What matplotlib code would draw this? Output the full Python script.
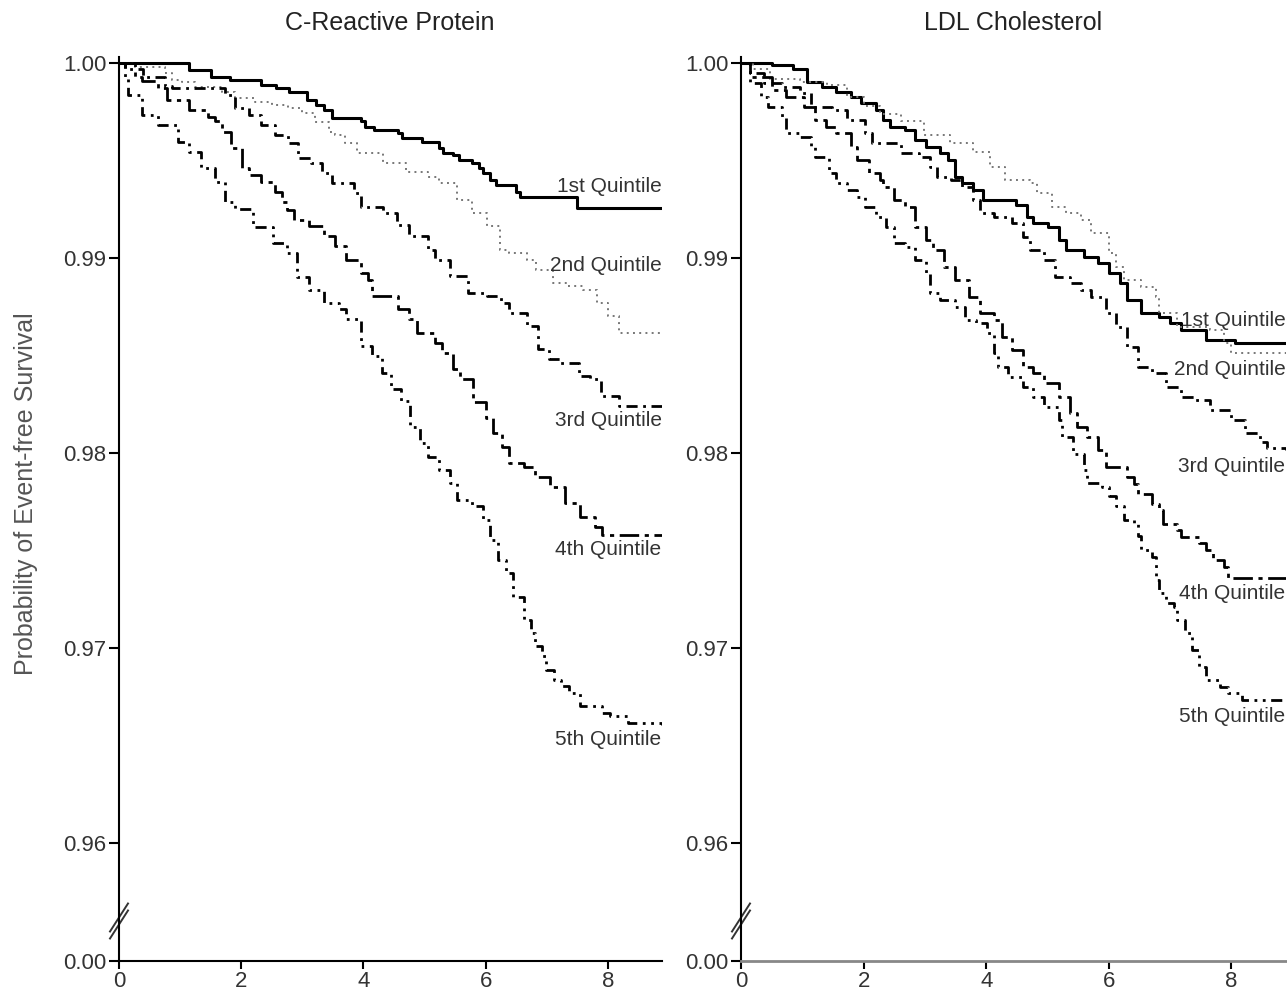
import numpy as np
import matplotlib.pyplot as plt

plt.rcParams['font.family'] = ['Liberation Sans', 'DejaVu Sans']

panel_titles = ['C-Reactive Protein', 'LDL Cholesterol']
quintile_names = ['1st Quintile', '2nd Quintile', '3rd Quintile', '4th Quintile', '5th Quintile']
x_ticks = [0, 2, 4, 6, 8]
y_ticks = [0.96, 0.97, 0.98, 0.99, 1.00]
y_tick_labels = ['0.96', '0.97', '0.98', '0.99', '1.00']

# C-reactive protein: years of follow-up / event-free survival (step knots)
crp_q1_t = [0, 1.15, 1.51, 1.81, 2.33, 2.57, 2.78, 3.08, 3.23, 3.36, 3.48, 3.96, 4.02, 4.17, 4.56, 4.63,
            4.96, 5.23, 5.30, 5.47, 5.56, 5.77, 5.89, 5.96, 6.08, 6.17, 6.50, 6.56, 7.50, 8.88]
crp_q1_s = [1.0, 0.99964, 0.9993, 0.99913, 0.99887, 0.9987, 0.99853, 0.9981, 0.99785, 0.9976, 0.9972, 0.9970,
            0.99673, 0.99656, 0.9964, 0.99615, 0.99596, 0.99564, 0.99538, 0.99528, 0.99503, 0.99487, 0.99462,
            0.99436, 0.9940, 0.99374, 0.9934, 0.99314, 0.99255, 0.99255]
crp_q2_t = [0, 0.26, 0.75, 0.86, 1.03, 1.24, 1.68, 1.90, 2.23, 2.50, 2.77, 2.99, 3.21, 3.43, 3.54, 3.70,
            3.90, 4.32, 4.69, 5.05, 5.23, 5.53, 5.77, 6.02, 6.23, 6.38, 6.68, 6.83, 7.10, 7.35, 7.59, 7.83,
            8.01, 8.19, 8.88]
crp_q2_s = [1.0, 0.99981, 0.99947, 0.99913, 0.9990, 0.99879, 0.99853, 0.99819, 0.99802, 0.99785, 0.99767,
            0.99742, 0.99699, 0.99648, 0.99631, 0.9959, 0.99537, 0.99486, 0.99443, 0.99417, 0.99383, 0.99298,
            0.9923, 0.99162, 0.99043, 0.99026, 0.98991, 0.9894, 0.98872, 0.98855, 0.98838, 0.9877, 0.98702,
            0.98617, 0.98605]
crp_q3_t = [0, 0.10, 0.40, 0.75, 0.86, 1.73, 1.90, 2.12, 2.33, 2.55, 2.77, 2.93, 3.15, 3.32, 3.48, 3.84,
            3.96, 4.32, 4.55, 4.75, 5.05, 5.17, 5.41, 5.71, 6.02, 6.26, 6.38, 6.68, 6.86, 7.04, 7.22, 7.53,
            7.71, 7.89, 8.19, 8.88]
crp_q3_s = [1.0, 0.9997, 0.9993, 0.9988, 0.9987, 0.99836, 0.99767, 0.99733, 0.99682, 0.99631, 0.99588,
            0.99511, 0.99486, 0.99434, 0.99383, 0.99332, 0.99264, 0.9923, 0.9917, 0.99111, 0.99043, 0.98991,
            0.98906, 0.98821, 0.98804, 0.9877, 0.98719, 0.98651, 0.98532, 0.9848, 0.98463, 0.98395, 0.98378,
            0.98293, 0.98242, 0.98242]
crp_q4_t = [0, 0.26, 0.37, 0.64, 0.78, 1.15, 1.46, 1.57, 1.68, 1.84, 2.01, 2.12, 2.33, 2.55, 2.66, 2.75,
            2.87, 3.11, 3.36, 3.54, 3.72, 3.96, 4.08, 4.14, 4.56, 4.75, 4.87, 5.17, 5.29, 5.47, 5.58, 5.80,
            6.00, 6.12, 6.27, 6.39, 6.63, 6.81, 7.06, 7.30, 7.54, 7.79, 7.91, 8.88]
crp_q4_s = [1.0, 0.9993, 0.9991, 0.9987, 0.9981, 0.99759, 0.99724, 0.9970, 0.99648, 0.99563, 0.9946,
            0.99426, 0.99391, 0.9934, 0.99289, 0.99247, 0.99196, 0.99162, 0.99111, 0.9906, 0.98991, 0.98923,
            0.98889, 0.98804, 0.98736, 0.98685, 0.98617, 0.98566, 0.98514, 0.98429, 0.98378, 0.9826, 0.9818,
            0.9810, 0.98032, 0.97947, 0.9793, 0.97879, 0.97827, 0.97742, 0.97673, 0.97622, 0.9758, 0.9758]
crp_q5_t = [0, 0.10, 0.15, 0.37, 0.64, 0.97, 1.14, 1.35, 1.57, 1.73, 1.90, 2.19, 2.52, 2.75, 2.91, 3.11,
            3.36, 3.60, 3.72, 3.96, 4.14, 4.30, 4.45, 4.62, 4.76, 4.93, 5.05, 5.23, 5.41, 5.54, 5.78, 5.96,
            6.08, 6.20, 6.33, 6.45, 6.63, 6.75, 6.81, 6.93, 6.99, 7.12, 7.24, 7.36, 7.54, 7.91, 8.03, 8.33, 8.88]
crp_q5_s = [1.0, 0.9992, 0.99836, 0.99733, 0.99682, 0.99596, 0.99545, 0.9946, 0.99391, 0.99289, 0.9925,
            0.99159, 0.99077, 0.99026, 0.98903, 0.98838, 0.9877, 0.98736, 0.98685, 0.98549, 0.98497, 0.98412,
            0.98327, 0.98265, 0.98135, 0.9805, 0.97981, 0.97913, 0.97845, 0.9776, 0.97726, 0.97657, 0.97555,
            0.97452, 0.97384, 0.97264, 0.97145, 0.97077, 0.97008, 0.96957, 0.96889, 0.96838, 0.96804, 0.9677,
            0.96701, 0.96667, 0.9665, 0.96616, 0.96607]

# LDL cholesterol
ldl_q1_t = [0, 0.50, 0.85, 1.08, 1.32, 1.55, 1.79, 1.96, 2.20, 2.31, 2.43, 2.67, 2.84, 3.02, 3.25, 3.37,
            3.49, 3.60, 3.78, 3.95, 4.48, 4.66, 4.77, 5.01, 5.18, 5.30, 5.59, 5.83, 6.00, 6.18, 6.30, 6.53,
            6.82, 7.00, 7.18, 7.59, 8.06, 8.89]
ldl_q1_s = [1.0, 0.9999, 0.99968, 0.99904, 0.99879, 0.99853, 0.99827, 0.99793, 0.99759, 0.99708, 0.99674,
            0.99656, 0.99605, 0.99571, 0.99537, 0.99503, 0.99417, 0.99383, 0.99349, 0.99297, 0.99272, 0.99212,
            0.99178, 0.99161, 0.99092, 0.99041, 0.99007, 0.98973, 0.98921, 0.9887, 0.98785, 0.98716, 0.98699,
            0.98665, 0.98631, 0.9858, 0.98562, 0.98562]
ldl_q2_t = [0, 0.20, 0.48, 0.97, 1.40, 1.73, 2.00, 2.27, 2.61, 2.99, 3.41, 3.78, 4.07, 4.31, 4.72, 4.83,
            5.07, 5.30, 5.54, 5.71, 6.00, 6.12, 6.24, 6.53, 6.77, 6.82, 7.12, 7.65, 7.88, 8.00, 8.89]
ldl_q2_s = [1.0, 0.9997, 0.9992, 0.9990, 0.99887, 0.99826, 0.9978, 0.99738, 0.9970, 0.9963, 0.9959,
            0.99545, 0.99468, 0.9940, 0.99383, 0.99332, 0.99263, 0.99229, 0.99195, 0.99127, 0.99024, 0.98956,
            0.98887, 0.98853, 0.98802, 0.98716, 0.98648, 0.98631, 0.98562, 0.98511, 0.98503]
ldl_q3_t = [0, 0.15, 0.38, 0.67, 0.97, 1.14, 1.49, 1.73, 2.02, 2.14, 2.61, 2.90, 3.08, 3.19, 3.43, 3.60,
            3.78, 3.90, 4.13, 4.42, 4.60, 4.72, 4.95, 5.13, 5.36, 5.54, 5.71, 5.95, 6.12, 6.30, 6.47, 6.71,
            6.94, 7.18, 7.41, 7.65, 8.00, 8.23, 8.47, 8.58, 8.89]
ldl_q3_s = [1.0, 0.9995, 0.99896, 0.99879, 0.99844, 0.99776, 0.99759, 0.99708, 0.99639, 0.99588, 0.99537,
            0.9952, 0.99468, 0.99417, 0.9940, 0.99366, 0.99297, 0.99229, 0.99212, 0.99178, 0.99109, 0.99041,
            0.9899, 0.98904, 0.9887, 0.98836, 0.98802, 0.98716, 0.98648, 0.98545, 0.98443, 0.98408, 0.9834,
            0.98289, 0.98272, 0.98221, 0.98169, 0.98101, 0.98058, 0.98024, 0.98015]
ldl_q4_t = [0, 0.15, 0.50, 0.73, 1.03, 1.20, 1.38, 1.55, 1.79, 1.90, 2.08, 2.26, 2.31, 2.49, 2.67, 2.84,
            3.02, 3.13, 3.31, 3.49, 3.72, 3.90, 4.13, 4.25, 4.42, 4.60, 4.77, 4.95, 5.18, 5.36, 5.48, 5.65,
            5.83, 5.95, 6.30, 6.41, 6.47, 6.71, 6.82, 6.88, 7.12, 7.18, 7.47, 7.59, 7.70, 7.88, 7.94, 8.89]
ldl_q4_s = [1.0, 0.9993, 0.99862, 0.99827, 0.99776, 0.99708, 0.99674, 0.99639, 0.99571, 0.99503, 0.99434,
            0.9940, 0.99366, 0.99297, 0.99263, 0.99161, 0.99092, 0.99041, 0.98956, 0.98887, 0.98802, 0.98716,
            0.98682, 0.98597, 0.9853, 0.98443, 0.98408, 0.98357, 0.98289, 0.98203, 0.98135, 0.98084, 0.98015,
            0.9793, 0.97878, 0.97843, 0.97792, 0.97741, 0.97707, 0.97638, 0.97604, 0.9757, 0.97536, 0.97502,
            0.97451, 0.97417, 0.97358, 0.97358]
ldl_q5_t = [0, 0.15, 0.32, 0.44, 0.67, 0.73, 0.97, 1.14, 1.20, 1.44, 1.55, 1.73, 1.90, 2.02, 2.20, 2.37,
            2.49, 2.67, 2.84, 3.02, 3.08, 3.25, 3.49, 3.66, 3.84, 4.01, 4.13, 4.19, 4.36, 4.60, 4.77, 4.95,
            5.18, 5.24, 5.42, 5.59, 5.65, 5.89, 6.00, 6.12, 6.24, 6.41, 6.47, 6.53, 6.71, 6.77, 6.82, 6.94,
            7.06, 7.12, 7.24, 7.35, 7.47, 7.59, 7.82, 7.94, 8.17, 8.89]
ldl_q5_s = [1.0, 0.99896, 0.99827, 0.99776, 0.99725, 0.99639, 0.99622, 0.99571, 0.9952, 0.99434, 0.99383,
            0.99349, 0.99315, 0.99263, 0.99212, 0.99161, 0.99075, 0.99058, 0.9899, 0.98921, 0.98819, 0.98785,
            0.9875, 0.98682, 0.98665, 0.98614, 0.98511, 0.98443, 0.98391, 0.9834, 0.98289, 0.98238, 0.98169,
            0.98084, 0.97995, 0.97913, 0.97845, 0.97828, 0.97777, 0.97726, 0.97657, 0.9764, 0.97572, 0.97503,
            0.97469, 0.97349, 0.9728, 0.97229, 0.97212, 0.97144, 0.97076, 0.9699, 0.96905, 0.96836, 0.96802,
            0.96768, 0.96733, 0.96733]

panels = [
    [(crp_q1_t, crp_q1_s), (crp_q2_t, crp_q2_s), (crp_q3_t, crp_q3_s), (crp_q4_t, crp_q4_s), (crp_q5_t, crp_q5_s)],
    [(ldl_q1_t, ldl_q1_s), (ldl_q2_t, ldl_q2_s), (ldl_q3_t, ldl_q3_s), (ldl_q4_t, ldl_q4_s), (ldl_q5_t, ldl_q5_s)],
]

# where each quintile label sits (survival scale), per panel
label_y = [[0.99369, 0.98964, 0.98169, 0.97503, 0.96533],
           [0.98682, 0.98426, 0.97933, 0.97277, 0.96651]]

# line look for each quintile
styles = [
    dict(color='black', lw=2.2, linestyle='-'),
    dict(color='#777777', lw=1.4, linestyle=(0, (1, 2.2))),
    dict(color='black', lw=2.0, linestyle=(0, (4, 2, 1, 2))),
    dict(color='black', lw=2.0, linestyle=(0, (7, 2, 1.5, 2))),
    dict(color='black', lw=2.0, linestyle=(0, (4, 2, 1, 2, 1, 2))),
]

# broken y axis: 0.00 is drawn a little below 0.96
fake_zero = 0.96 - 118 / 19500
y_top = 1.0003
x_max = 8.89

fig = plt.figure(figsize=(12.87, 9.93), dpi=100)
ax_height = (961 - 57.15) / 993
ax_bottom = 1 - 961 / 993
axes = [fig.add_axes([119 / 1287, ax_bottom, x_max * 61.1 / 1287, ax_height]),
        fig.add_axes([741 / 1287, ax_bottom, x_max * 61.3 / 1287, ax_height])]
title_x = [390 / 1287, 1013 / 1287]

for i, ax in enumerate(axes):
    for (t, s), style in zip(panels[i], styles):
        ax.step(t, s, where='post', **style)
    for name, ly in zip(quintile_names, label_y[i]):
        ax.text(x_max - 0.01, ly, name, ha='right', va='center', fontsize=15, color='#333333')

    ax.set_xlim(0, x_max)
    ax.set_ylim(fake_zero, y_top)
    ax.set_xticks(x_ticks)
    ax.set_yticks([fake_zero] + y_ticks)
    ax.set_yticklabels(['0.00'] + y_tick_labels)
    ax.tick_params(direction='out', length=7, width=1.5, labelsize=16, labelcolor='#333333', pad=2)
    ax.tick_params(axis='x', length=6, pad=1)
    for side in ['top', 'right']:
        ax.spines[side].set_visible(False)
    ax.spines['left'].set_linewidth(1.5)
    ax.spines['bottom'].set_linewidth(1.5 if i == 0 else 2.0)
    ax.spines['bottom'].set_color('black' if i == 0 else '#888888')

    # the // break mark on the y axis
    w_px = ax.get_position().width * 1287
    h_px = ax.get_position().height * 993
    yb = 40 / h_px
    dx, dy = 9 / w_px, 14 / h_px
    for off in [-3.5 / h_px, 3.5 / h_px]:
        ax.plot([-dx, dx], [yb + off - dy, yb + off + dy], transform=ax.transAxes,
                color='#333333', lw=1.4, clip_on=False)

    fig.text(title_x[i], 1 - 23 / 993, panel_titles[i], ha='center', va='center',
             fontsize=18, color='#222222')

fig.text(26 / 1287, 1 - 494 / 993, 'Probability of Event-free Survival', rotation=90,
         ha='center', va='center', fontsize=18, color='#555555')

plt.savefig('out.png', dpi=100)
